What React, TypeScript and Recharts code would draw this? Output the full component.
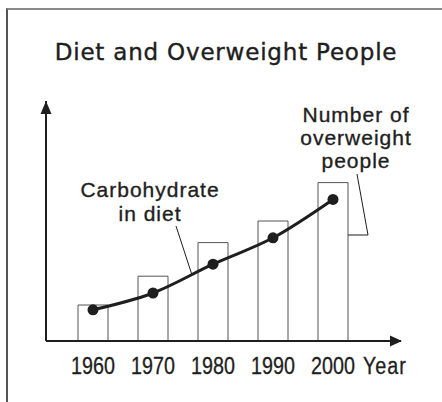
import React from 'react';
import { ComposedChart, Bar, Line, XAxis, YAxis } from 'recharts';

// Data (arbitrary relative units, axis has no scale)
const years = ['1960', '1970', '1980', '1990', '2000'];
const overweightPeople = [15, 27, 41, 50, 66];
const carbohydrateInDiet = [13, 20, 32, 43, 59];
const titleText = 'Diet and Overweight People';
const xAxisName = 'Year';
const carbLabel = ['Carbohydrate', 'in diet'];
const overweightLabel = ['Number of', 'overweight', 'people'];

const data = years.map((year, i) => ({
  year,
  overweight: overweightPeople[i],
  carbohydrate: carbohydrateInDiet[i],
}));

const W = 442;
const H = 402;
const PL = 46;
const PT = 101;
const PR = 401;
const PB = 341;
const FONT = '"Liberation Sans", Arial, Helvetica, sans-serif';
const WIDE = '"DejaVu Sans", Verdana, sans-serif';
const INK = '#1e1e1e';

const YearTick = (props: any) => {
  const { x, y, payload } = props;
  return (
    <text
      transform={`translate(${x},${y + 33}) scale(0.84,1)`}
      x={0}
      y={0}
      textAnchor="middle"
      fontFamily={FONT}
      fontSize={23.5}
      fill={INK}
      stroke={INK}
      strokeWidth={0.3}
    >
      {payload.value}
    </text>
  );
};

export default function App() {
  return (
    <div style={{ position: 'absolute', left: 0, top: 0, width: W, height: H, background: '#fff', overflow: 'hidden' }}>
      <div
        style={{
          position: 'absolute',
          left: 6,
          top: 8,
          width: W,
          height: H,
          borderTop: '2px solid #8a8a8a',
          borderLeft: '2px solid #555',
          boxSizing: 'border-box',
        }}
      />
      <div style={{ position: 'absolute', left: 0, top: 0 }}>
        <ComposedChart
          width={W}
          height={H}
          data={data}
          margin={{ top: PT, left: PL - 10, right: W - PR, bottom: H - PB - 30 }}
        >
          <XAxis
            dataKey="year"
            height={30}
            padding={{ left: 17, right: 38 }}
            axisLine={{ stroke: INK, strokeWidth: 2 }}
            tickLine={false}
            tickSize={0}
            tickMargin={0}
            tick={<YearTick />}
            interval={0}
          />
          <YAxis
            width={10}
            domain={[0, 100]}
            tick={false}
            tickLine={false}
            axisLine={{ stroke: INK, strokeWidth: 2 }}
          />
          <Bar
            dataKey="overweight"
            barSize={30}
            fill="#fff"
            stroke="#555"
            strokeWidth={1}
            isAnimationActive={false}
          />
          <Line
            dataKey="carbohydrate"
            type="monotone"
            stroke={INK}
            strokeWidth={3}
            dot={{ r: 5.5, fill: INK, stroke: INK, strokeWidth: 0 }}
            isAnimationActive={false}
          />
        </ComposedChart>
      </div>
      <svg
        width={W}
        height={H}
        style={{ position: 'absolute', left: 0, top: 0, pointerEvents: 'none' }}
      >
        <text
          x={226}
          y={60}
          textAnchor="middle"
          fontFamily={WIDE}
          fontSize={23}
          letterSpacing={0.8}
          fill={INK}
          stroke={INK}
          strokeWidth={0.4}
        >
          {titleText}
        </text>
        {/* axis arrowheads */}
        <polygon points={`${PL},${PT} ${PL - 5.5},${PT + 13} ${PL + 5.5},${PT + 13}`} fill={INK} />
        <polygon points={`${PR + 1},${PB} ${PR - 11},${PB - 5.5} ${PR - 11},${PB + 5.5}`} fill={INK} />
        <text
          transform="translate(363,374) scale(0.84,1)"
          x={0}
          y={0}
          fontFamily={FONT}
          fontSize={23.5}
          letterSpacing={1.2}
          fill={INK}
          stroke={INK}
          strokeWidth={0.3}
        >
          {xAxisName}
        </text>
        {carbLabel.map((t, i) => (
          <text key={t} x={150} y={197 + i * 24} textAnchor="middle" fontFamily={FONT} fontSize={21} letterSpacing={1} fill={INK} stroke={INK} strokeWidth={0.35}>
            {t}
          </text>
        ))}
        {overweightLabel.map((t, i) => (
          <text key={t} x={356} y={122 + i * 23} textAnchor="middle" fontFamily={FONT} fontSize={21} letterSpacing={1} fill={INK} stroke={INK} strokeWidth={0.35}>
            {t}
          </text>
        ))}
        <line x1={176} y1={226} x2={192} y2={275} stroke={INK} strokeWidth={1} />
        <polyline points="357,174 368,235 348,235" fill="none" stroke={INK} strokeWidth={1} />
      </svg>
    </div>
  );
}
